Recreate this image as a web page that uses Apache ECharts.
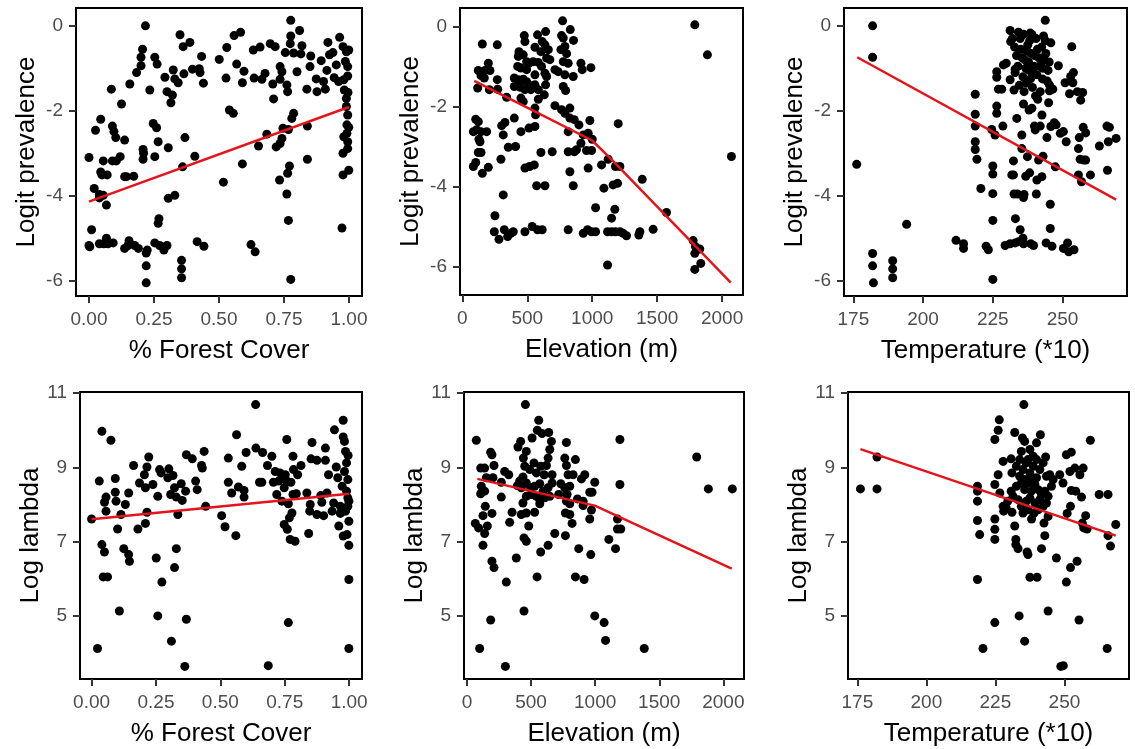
<!DOCTYPE html>
<html>
<head>
<meta charset="utf-8">
<script src="https://cdn.jsdelivr.net/npm/echarts@6/dist/echarts.min.js"></script>
<style>html,body{margin:0;padding:0;background:#fff}#c{width:1135px;height:749px}</style>
</head>
<body>
<div id="c"></div>
<script>
// ---------- tick labels ----------
const propTicks = [0, 0.25, 0.5, 0.75, 1];
const elevTicks = [0, 500, 1000, 1500, 2000];
const tempTicks = [175, 200, 225, 250];
const logitTicks = [-6, -4, -2, 0];
const lambdaTicks = [5, 7, 9, 11];

// ---------- axis titles ----------
const xTitles = ["% Forest Cover", "Elevation (m)", "Temperature (*10)"];
const yTitles = ["Logit prevalence", "Log lambda"];

// ---------- panel 1: forest cover vs logit prevalence ----------
const forestLogit = [[0.00,-3.10],[0.00,-5.17],[0.003,-5.20],[0.01,-4.80],[0.02,-3.83],[0.025,-2.46],[0.04,-4.05],[0.04,-3.97],[0.04,-5.13],[0.045,-2.20],[0.045,-3.44],[0.05,-3.51],[0.055,-3.18],[0.055,-3.99],[0.057,-5.13],[0.067,-4.22],[0.067,-5.00],[0.07,-3.51],[0.073,-5.13],[0.086,-1.49],[0.09,-2.36],[0.09,-3.18],[0.093,-5.11],[0.096,-2.49],[0.103,-2.63],[0.105,-3.18],[0.12,-3.08],[0.125,-1.84],[0.137,-2.69],[0.137,-3.55],[0.137,-5.24],[0.144,-3.55],[0.15,-5.17],[0.154,-5.06],[0.157,-1.37],[0.172,-3.54],[0.176,-5.17],[0.183,-1.10],[0.19,-5.24],[0.20,-0.94],[0.206,-0.55],[0.20,-0.74],[0.208,-2.91],[0.208,-3.14],[0.21,-3.00],[0.217,0.00],[0.22,-5.35],[0.224,-5.28],[0.22,-5.65],[0.22,-6.05],[0.234,-1.51],[0.247,-2.30],[0.253,-0.74],[0.26,-2.40],[0.262,-0.90],[0.253,-3.08],[0.253,-5.11],[0.266,-2.73],[0.266,-4.65],[0.269,-4.54],[0.272,-5.17],[0.288,-5.28],[0.292,-1.21],[0.30,-1.55],[0.30,-5.17],[0.305,-4.06],[0.305,-2.87],[0.315,-1.81],[0.321,-1.63],[0.324,-1.04],[0.33,-1.25],[0.33,-3.99],[0.343,-1.34],[0.35,-0.21],[0.36,-3.32],[0.356,-5.52],[0.356,-5.72],[0.356,-5.93],[0.362,-0.49],[0.365,-1.13],[0.369,-2.63],[0.388,-0.39],[0.398,-1.02],[0.407,-3.07],[0.416,-5.08],[0.424,-1.01],[0.427,-1.10],[0.433,-0.72],[0.44,-1.35],[0.442,-5.19],[0.501,-0.79],[0.517,-3.68],[0.527,-1.23],[0.53,-0.51],[0.54,-1.98],[0.555,-2.06],[0.558,-0.23],[0.568,-0.90],[0.583,-0.15],[0.59,-1.34],[0.59,-3.25],[0.596,-1.07],[0.623,-5.15],[0.632,-0.57],[0.635,-1.23],[0.639,-5.32],[0.652,-2.83],[0.658,-0.50],[0.665,-1.26],[0.677,-1.12],[0.684,-2.55],[0.697,-0.42],[0.707,-1.37],[0.71,-1.72],[0.716,-0.49],[0.72,-2.85],[0.735,-1.26],[0.735,-2.77],[0.742,-2.65],[0.735,-0.96],[0.742,-1.08],[0.746,-2.41],[0.733,-3.63],[0.755,-0.63],[0.761,-1.39],[0.764,-1.55],[0.764,-3.47],[0.761,-3.96],[0.767,-4.58],[0.771,-3.30],[0.776,-5.97],[0.776,0.13],[0.776,-0.24],[0.774,-0.42],[0.78,-2.18],[0.787,-2.06],[0.767,-2.44],[0.787,-0.64],[0.80,-1.08],[0.81,-0.11],[0.815,-0.66],[0.819,-0.47],[0.838,-1.49],[0.84,-2.36],[0.84,-3.14],[0.85,-0.96],[0.853,-0.71],[0.874,-1.25],[0.877,-1.55],[0.893,-0.82],[0.902,-1.31],[0.909,-1.49],[0.915,-1.05],[0.919,-0.39],[0.925,-0.68],[0.938,-0.63],[0.943,-1.22],[0.951,-0.92],[0.96,-1.31],[0.964,-0.27],[0.973,-4.76],[0.977,-0.49],[0.977,-3.00],[0.977,-3.51],[0.98,-1.27],[0.982,-1.51],[0.986,-0.84],[0.99,-0.61],[0.99,-1.71],[0.99,-1.90],[0.992,-2.33],[0.992,-2.53],[0.995,-2.10],[0.995,-2.73],[0.995,-2.89],[0.999,-3.40],[0.995,-1.18],[0.995,-0.96],[0.999,-0.57],[0.996,-1.57],[0.999,-2.39],[0.98,-2.61]];
const forestLogitFit = [[0, -4.14], [1, -1.91]];

// ---------- panel 2: elevation vs logit prevalence ----------
const elevLogit = [[154,-0.44],[269,-0.46],[123,-1.10],[144,-1.23],[174,-1.10],[200,-0.92],[213,-1.10],[169,-1.29],[118,-1.54],[208,-1.58],[269,-1.33],[272,-1.57],[341,-1.77],[103,-2.32],[123,-2.38],[85,-2.63],[110,-2.58],[144,-2.63],[187,-2.63],[128,-2.82],[136,-2.88],[123,-3.15],[144,-3.15],[85,-3.50],[103,-3.40],[154,-3.67],[200,-3.52],[303,-2.48],[328,-2.40],[315,-2.71],[297,-3.32],[354,-3.02],[400,-2.29],[410,-3.00],[451,-2.63],[513,-2.54],[559,-2.50],[482,-3.54],[518,-3.50],[554,-3.46],[572,-3.98],[636,-3.98],[605,-3.15],[692,-3.13],[315,-4.21],[251,-4.73],[246,-5.13],[282,-5.32],[323,-5.08],[349,-5.25],[374,-5.17],[392,-5.13],[482,-5.13],[538,-5.00],[579,-5.08],[615,-5.08],[815,-5.08],[931,-5.17],[964,-5.08],[995,-5.13],[1026,-5.13],[1118,-5.13],[1149,-5.13],[1179,-5.13],[1213,-5.13],[1238,-5.17],[1264,-5.23],[1359,-5.21],[1367,-5.13],[1469,-5.07],[1026,-4.53],[1149,-4.79],[1174,-4.57],[1118,-5.96],[1090,-4.04],[1161,-3.96],[1195,-3.92],[1385,-3.82],[1572,-4.65],[1072,-3.46],[1123,-3.32],[1179,-3.50],[1213,-3.50],[1200,-2.43],[969,-3.54],[828,-3.63],[854,-3.98],[815,-3.13],[862,-3.13],[879,-3.08],[913,-2.92],[956,-3.10],[995,-3.10],[1000,-2.82],[969,-2.67],[931,-2.71],[982,-2.35],[898,-2.46],[862,-2.33],[828,-2.29],[815,-2.63],[828,-2.04],[790,-2.17],[764,-2.08],[713,-1.98],[764,-0.23],[772,0.14],[831,-0.08],[856,-0.35],[777,-0.29],[790,-0.50],[759,-0.58],[803,-0.68],[777,-0.88],[815,-0.92],[854,-1.25],[790,-1.21],[777,-1.50],[795,-1.60],[713,-1.08],[738,-1.13],[913,-0.92],[923,-1.08],[990,-1.03],[641,-0.13],[579,-0.21],[615,-0.38],[636,-0.46],[662,-0.58],[649,-0.79],[674,-0.83],[559,-0.52],[605,-0.63],[477,-0.23],[482,-0.38],[436,-0.63],[431,-0.75],[469,-0.71],[495,-0.88],[513,-0.92],[546,-0.88],[585,-0.90],[610,-1.00],[426,-1.00],[451,-1.04],[495,-1.08],[559,-1.21],[636,-1.17],[649,-1.25],[400,-1.29],[431,-1.33],[469,-1.32],[495,-1.38],[528,-1.48],[559,-1.46],[585,-1.58],[641,-1.46],[400,-1.50],[446,-1.52],[482,-1.58],[528,-1.58],[631,-1.71],[451,-1.79],[469,-1.88],[585,-1.82],[559,-2.04],[564,-2.21],[1790,0.04],[1887,-0.71],[2072,-3.25],[1777,-5.35],[1795,-5.50],[1790,-5.67],[1828,-5.56],[1836,-5.92],[1790,-6.07]];
const elevLogitFit = [[92, -1.36], [500, -2.03], [1000, -2.85], [1150, -3.33], [2067, -6.40]];

// ---------- panel 3: temperature vs logit prevalence ----------
const tempLogit = [[176.2,-3.26],[181.9,0.00],[181.9,-0.74],[181.9,-5.36],[181.9,-5.65],[182.2,-6.05],[189.1,-5.53],[189.1,-5.72],[189.1,-5.93],[194.1,-4.67],[211.8,-5.05],[214.5,-5.13],[214.5,-5.24],[218.7,-1.61],[218.7,-2.08],[218.7,-2.36],[218.7,-2.73],[218.7,-2.91],[219.3,-3.14],[220.7,-3.83],[222.6,-5.19],[223.4,-5.27],[225,-3.30],[225,-3.49],[225,-3.95],[225,-4.58],[225,-5.97],[224.6,-2.44],[225.8,-2.57],[226.4,-1.89],[226.4,-2.06],[226.4,-1.08],[226.4,-1.21],[227,-1.49],[228.2,-1.49],[228.6,-2.36],[228.8,-0.92],[229.8,-0.88],[229.4,-5.17],[231.2,-5.13],[231.2,-1.27],[231.2,-0.11],[231.4,-0.37],[231.8,-3.51],[232.4,-3.18],[232.4,-3.51],[232.6,-3.96],[233.1,-4.54],[233,-5.11],[232.6,-1.51],[233,-1.02],[233.6,-2.18],[234.2,-5.08],[234.8,-4.80],[233.8,-3.96],[235.4,-2.57],[235.4,-2.89],[235.8,-5.00],[236,-1.84],[236,-4.04],[236.2,-3.97],[236,-5.13],[236.8,-3.54],[237.4,-3.08],[238,-1.98],[238.2,-3.46],[238.4,-0.17],[238.6,-5.13],[239,-1.94],[239.6,-5.17],[239.9,-2.36],[240.2,-2.45],[240.6,-3.96],[240.8,-3.63],[241.1,-1.73],[241.4,-3.16],[242,-2.36],[242.6,-2.10],[242.6,-3.55],[243,-3.07],[243.2,-0.24],[243.8,0.13],[244.1,-5.11],[244.4,-2.63],[245,-1.81],[245.3,-1.39],[245.3,-1.53],[245.6,-4.20],[245.6,-4.77],[245.8,-2.37],[246.2,-5.19],[246.5,-1.49],[247,-2.28],[247.4,-3.32],[247.7,-2.33],[248.5,-0.94],[249.2,-2.53],[250.3,-5.24],[250.3,-2.49],[250.9,-1.34],[251.3,-2.73],[251.8,-5.11],[252.2,-5.32],[252.5,-1.60],[252.9,-1.19],[253.3,-0.49],[253.7,-1.34],[253.9,-1.10],[254.1,-5.27],[255.3,-1.55],[255.7,-3.51],[255.7,-2.89],[256,-2.63],[256.3,-3.14],[256.5,-1.75],[256.8,-3.67],[257.2,-1.57],[257.4,-2.39],[257.6,-3.16],[258.3,-2.52],[258.3,-3.16],[260,-3.51],[263.2,-2.83],[265.9,-2.36],[266.8,-2.39],[266.1,-3.40],[266.4,-2.73],[269.2,-2.65],[232.0,-0.30],[233.5,-0.70],[234.0,-0.95],[235.0,-0.55],[235.8,-1.20],[236.5,-0.80],[237.0,-1.35],[237.5,-0.45],[238.0,-1.05],[238.8,-0.65],[239.2,-1.45],[239.8,-0.95],[240.5,-0.30],[240.8,-1.15],[241.5,-0.75],[242.0,-1.55],[242.5,-0.50],[243.0,-1.00],[243.8,-0.35],[244.5,-1.30],[245.2,-0.85],[233.0,-1.10],[234.5,-1.40],[236.0,-0.20],[237.8,-0.85],[239.0,-0.20],[241.0,-0.55],[242.8,-1.25],[244.0,-0.65],[245.8,-0.40],[232.8,-0.50],[234.8,-0.30],[236.8,-1.00],[238.5,-1.25],[240.0,-0.70],[241.8,-0.95],[243.5,-0.80],[235.5,-0.75],[239.5,-1.10],[237.2,-0.60],[234.2,-0.15],[236.2,-1.55],[240.3,-1.65],[238.2,-0.35],[244.8,-1.05]];
const tempLogitFit = [[176.4, -0.74], [269.2, -4.09]];

// ---------- panel 4: forest cover vs log lambda ----------
const forestLambda = [[0,7.61],[0.023,4.12],[0.03,8.63],[0.04,9.97],[0.04,6.92],[0.05,6.72],[0.045,6.05],[0.062,6.05],[0.05,8.06],[0.056,8.20],[0.056,7.82],[0.075,9.73],[0.092,8.70],[0.092,8.33],[0.095,8.09],[0.101,7.34],[0.108,5.13],[0.114,7.73],[0.125,6.81],[0.131,8.00],[0.144,8.31],[0.144,6.65],[0.147,6.47],[0.163,9.05],[0.18,7.34],[0.186,8.58],[0.205,8.80],[0.209,8.45],[0.209,7.49],[0.215,9.01],[0.215,7.79],[0.222,9.28],[0.238,8.54],[0.251,6.56],[0.257,8.22],[0.257,5.00],[0.264,8.94],[0.27,8.85],[0.273,5.91],[0.296,8.72],[0.30,8.96],[0.307,8.27],[0.31,4.32],[0.316,8.78],[0.322,8.45],[0.322,6.30],[0.329,6.81],[0.329,8.20],[0.335,7.73],[0.348,8.56],[0.352,8.11],[0.365,8.36],[0.368,9.34],[0.368,4.91],[0.362,3.64],[0.391,9.23],[0.404,8.63],[0.41,8.40],[0.427,9.05],[0.43,8.98],[0.437,9.43],[0.443,7.95],[0.505,7.70],[0.518,7.40],[0.531,9.25],[0.531,8.60],[0.544,8.31],[0.56,7.16],[0.563,9.88],[0.57,8.47],[0.583,9.03],[0.592,8.38],[0.592,8.20],[0.60,9.40],[0.637,10.69],[0.638,9.52],[0.652,8.60],[0.661,8.60],[0.664,9.40],[0.683,9.05],[0.686,3.66],[0.70,9.30],[0.706,8.60],[0.713,8.89],[0.719,8.27],[0.726,8.63],[0.732,8.85],[0.739,8.09],[0.743,8.76],[0.748,8.45],[0.748,7.46],[0.752,8.80],[0.755,8.65],[0.758,9.75],[0.76,7.33],[0.764,4.82],[0.764,8.02],[0.768,7.64],[0.771,7.06],[0.774,8.60],[0.778,7.77],[0.782,9.30],[0.782,8.27],[0.784,8.94],[0.79,7.01],[0.795,8.29],[0.80,8.80],[0.813,9.05],[0.836,8.31],[0.843,7.22],[0.847,7.82],[0.849,8.00],[0.852,9.23],[0.856,9.67],[0.875,9.19],[0.875,7.73],[0.89,8.24],[0.894,8.06],[0.901,7.70],[0.908,9.52],[0.908,9.19],[0.914,8.31],[0.92,8.80],[0.934,7.82],[0.94,8.04],[0.943,10.01],[0.95,9.01],[0.956,8.72],[0.96,7.42],[0.966,7.76],[0.973,8.49],[0.977,10.27],[0.977,9.82],[0.977,7.15],[0.982,9.70],[0.982,8.89],[0.986,7.82],[0.986,9.43],[0.99,9.12],[0.99,8.36],[0.992,7.19],[0.995,8.18],[0.995,8.67],[0.996,9.32],[0.999,7.55],[0.999,6.90],[0.999,5.98],[0.999,4.12],[0.999,8.09],[0.995,7.95],[0.966,7.95]];
const forestLambdaFit = [[0, 7.60], [1, 8.29]];

// ---------- panel 5: elevation vs log lambda ----------
const elevLambda = [[456,10.69],[73,9.73],[99,4.12],[185,4.89],[185,9.41],[195,9.34],[211,9.05],[107,8.98],[138,8.98],[151,8.72],[203,8.72],[112,8.49],[138,8.36],[107,8.29],[143,7.95],[125,7.70],[195,7.76],[65,7.49],[91,7.37],[159,7.42],[138,7.22],[125,6.90],[195,6.47],[211,6.30],[307,5.91],[268,8.60],[268,8.20],[294,8.89],[326,8.80],[352,7.79],[333,7.52],[385,6.56],[445,5.13],[445,7.10],[463,7.01],[482,7.42],[398,9.55],[419,9.70],[463,9.43],[440,9.25],[508,9.79],[549,10.00],[560,10.27],[586,9.91],[638,9.94],[659,9.70],[646,9.48],[633,9.25],[620,9.05],[602,8.80],[575,9.03],[542,8.85],[523,9.12],[490,8.94],[451,9.03],[437,8.74],[411,8.63],[393,8.51],[424,8.45],[463,8.58],[497,8.45],[528,8.49],[568,8.56],[594,8.36],[633,8.45],[664,8.58],[664,8.80],[646,8.22],[607,8.18],[568,8.13],[542,8.22],[503,8.27],[463,8.22],[437,8.04],[424,7.73],[463,7.77],[528,7.79],[568,8.02],[575,6.72],[547,6.05],[633,6.90],[685,7.22],[716,8.27],[732,8.56],[763,9.25],[776,9.67],[776,9.05],[789,8.80],[763,8.45],[802,8.49],[828,8.80],[846,9.21],[781,8.27],[776,8.09],[802,8.02],[768,7.77],[802,7.73],[820,7.49],[768,7.16],[862,8.15],[872,6.81],[846,6.05],[906,8.09],[906,7.97],[893,8.69],[919,8.80],[958,8.33],[976,8.33],[971,7.85],[958,7.61],[966,6.65],[914,5.98],[997,8.60],[997,5.00],[1070,4.82],[1081,4.34],[1107,7.06],[1159,6.81],[1174,7.61],[1174,7.34],[1200,7.34],[1193,9.75],[1193,8.54],[1383,4.12],[1792,9.28],[1883,8.42],[2070,8.42],[300,3.64]];
const elevLambdaFit = [[81, 8.69], [997, 7.97], [2065, 6.27]];

// ---------- panel 6: temperature vs log lambda ----------
const tempLambda = [[176.1,8.42],[182.1,8.42],[182.1,9.28],[218.5,8.49],[218.5,8.36],[218.5,8.09],[218.5,7.57],[219.3,7.19],[218.5,5.98],[220.5,4.12],[224.8,8.54],[224.8,7.61],[224.8,7.33],[224.8,7.06],[224.8,4.82],[224.8,9.75],[226,10.00],[226.4,10.28],[226,8.80],[226.6,8.31],[227.8,9.16],[227.8,7.95],[228,7.82],[230.7,9.23],[231,8.85],[231,7.79],[232,9.94],[232,7.42],[232.4,7.06],[232.4,6.92],[233.2,6.81],[233.6,5.00],[233.8,9.21],[234.4,9.43],[234.8,9.79],[235.3,10.69],[235.6,4.32],[235.6,9.70],[236.5,6.72],[236.8,6.65],[237.5,9.48],[237.5,6.04],[238.1,7.61],[238.9,7.76],[239.9,9.66],[240.1,6.04],[241.3,9.88],[241.7,6.81],[242.6,7.50],[242.9,7.16],[243.2,9.28],[244.1,5.13],[247.1,6.56],[248.3,8.80],[249.5,8.58],[250.7,5.91],[250.7,9.34],[251,7.76],[252,8.89],[252.2,7.95],[252.5,9.41],[252.5,8.38],[252.2,6.30],[253.8,8.98],[254.1,8.36],[254.6,6.47],[255.3,4.89],[255.6,8.80],[256.2,8.20],[256.5,7.50],[256.8,8.98],[257,7.37],[257.7,7.70],[258.2,7.34],[259.4,9.73],[262.6,8.27],[265.8,8.27],[265.8,7.16],[266.7,6.88],[268.6,7.46],[265.5,4.12],[232.6,9.03],[233.8,8.76],[235,8.94],[236.2,9.12],[237.5,8.85],[238.7,9.03],[239.9,9.21],[241.1,8.94],[242.3,9.12],[243.5,8.76],[244.7,8.80],[245.9,8.67],[232.6,8.49],[234.4,8.58],[235.6,8.40],[236.8,8.58],[238,8.36],[239.3,8.54],[240.5,8.40],[241.7,8.27],[242.9,8.36],[244.1,8.22],[245.3,8.49],[231.4,8.22],[233.2,8.13],[234.4,7.95],[236.2,8.09],[237.5,8.18],[239.3,8.04],[241.1,8.13],[242.3,7.95],[243.5,8.04],[235,7.77],[236.8,7.86],[240.5,7.86],[244.1,7.68],[230.7,8.36],[229.5,8.09],[228.9,7.91],[235.6,8.67],[238,8.72],[239.9,8.72],[236.8,9.21],[238.7,9.30],[248.7,3.64],[249.6,3.66]];
const tempLambdaFit = [[176.1, 9.49], [268.6, 7.16]];

// ---------- build chart ----------
const FONT = '"Liberation Sans", Arial, sans-serif';
const grids = [
  {left: 76, top: 8, width: 286, height: 288},
  {left: 460, top: 8, width: 283, height: 287},
  {left: 844, top: 8, width: 283, height: 288},
  {left: 80, top: 392, width: 282, height: 287},
  {left: 464, top: 392, width: 280, height: 287},
  {left: 848, top: 392, width: 281, height: 287}
].map(g => Object.assign({show: true, borderColor: '#000', borderWidth: 2, backgroundColor: 'transparent'}, g));

function axisCommon(ticks, fmt, margin) {
  return {
    type: 'value',
    axisLine: {show: true, onZero: false, lineStyle: {color: '#000', width: 2}},
    axisTick: {show: true, customValues: ticks, length: 7, lineStyle: {color: '#333', width: 2}},
    axisLabel: {customValues: ticks, formatter: fmt, fontSize: 19, color: '#4d4d4d', margin: margin, fontFamily: FONT},
    splitLine: {show: false},
    nameLocation: 'middle',
    nameTextStyle: {fontSize: 26, color: '#000', fontFamily: FONT}
  };
}
const f2 = v => v.toFixed(2);
const f0 = v => String(Math.round(v));

const xRanges = [[-0.05, 1.05], [-18, 2161], [171.65, 273.1], [-0.045, 1.05], [-23, 2161], [171.6, 273.4]];
const yRanges = [[-6.36, 0.42], [-6.71, 0.46], [-6.36, 0.42], [3.3, 11.03], [3.3, 11.03], [3.3, 11.03]];
const xTickSets = [propTicks, elevTicks, tempTicks, propTicks, elevTicks, tempTicks];
const xFmts = [f2, f0, f0, f2, f0, f0];

const xAxis = [], yAxis = [];
for (let i = 0; i < 6; i++) {
  xAxis.push(Object.assign(axisCommon(xTickSets[i], xFmts[i], 14), {
    gridIndex: i, min: xRanges[i][0], max: xRanges[i][1], name: xTitles[i % 3], nameGap: 42
  }));
  yAxis.push(Object.assign(axisCommon(i < 3 ? logitTicks : lambdaTicks, f0, 13), {
    gridIndex: i, min: yRanges[i][0], max: yRanges[i][1], name: yTitles[i < 3 ? 0 : 1], nameGap: 36
  }));
}

const pointSets = [forestLogit, elevLogit, tempLogit, forestLambda, elevLambda, tempLambda];
const fitSets = [forestLogitFit, elevLogitFit, tempLogitFit, forestLambdaFit, elevLambdaFit, tempLambdaFit];
const series = [];
for (let i = 0; i < 6; i++) {
  series.push({type: 'scatter', xAxisIndex: i, yAxisIndex: i, data: pointSets[i], symbolSize: 9,
    itemStyle: {color: '#000', opacity: 1}, silent: true, z: 2});
}
for (let i = 0; i < 6; i++) {
  series.push({type: 'line', xAxisIndex: i, yAxisIndex: i, data: fitSets[i], showSymbol: false, smooth: false,
    lineStyle: {color: '#e3141c', width: 2.5}, silent: true, z: 3});
}

const chart = echarts.init(document.getElementById('c'), null, {renderer: 'canvas'});
chart.setOption({animation: false, backgroundColor: '#fff', textStyle: {fontFamily: FONT}, grid: grids, xAxis, yAxis, series});
</script>
</body>
</html>
